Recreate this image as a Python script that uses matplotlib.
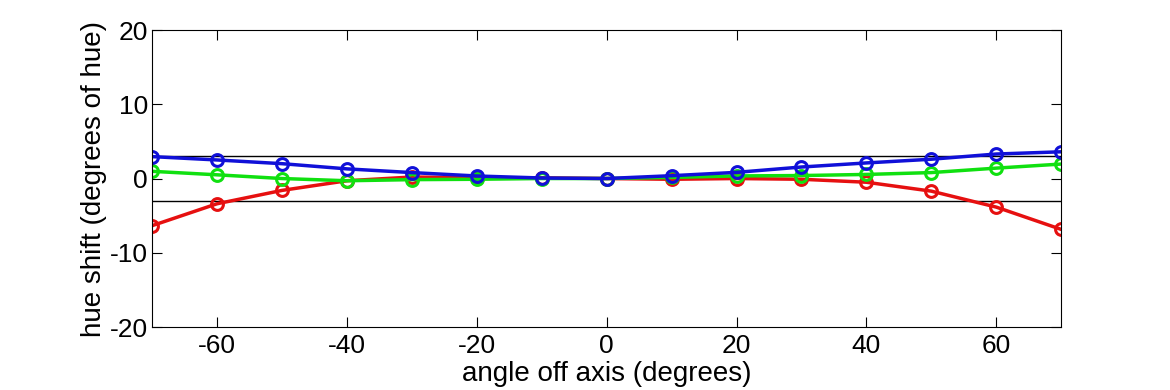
import matplotlib
matplotlib.use("Agg")
import matplotlib.pyplot as plt
import numpy as np

# viewing angle (degrees)
angles = [-70, -60, -50, -40, -30, -20, -10, 0, 10, 20, 30, 40, 50, 60, 70]

# hue shift per channel (degrees of hue)
red_shift = [-6.35, -3.4, -1.6, -0.3, 0.2, 0.1, 0.1, 0.0, -0.1, 0.0, -0.1, -0.5, -1.7, -3.85, -6.85]
green_shift = [0.97, 0.5, 0.0, -0.3, -0.15, -0.1, 0.0, 0.0, 0.15, 0.35, 0.4, 0.55, 0.8, 1.4, 1.95]
blue_shift = [2.95, 2.5, 2.0, 1.3, 0.8, 0.34, 0.07, 0.0, 0.38, 0.83, 1.55, 2.1, 2.6, 3.3, 3.6]

limit = 3
x_ticks = [-60, -40, -20, 0, 20, 40, 60]
y_ticks = [-20, -10, 0, 10, 20]

plt.rcParams['font.family'] = ['Liberation Sans', 'DejaVu Sans']
plt.rcParams['axes.unicode_minus'] = False

fig = plt.figure(figsize=(11.7, 3.9), dpi=100)
ax = fig.add_axes([0.13, 0.1615, 0.777, 0.7615])

ax.axhline(limit, color="black", linewidth=1)
ax.axhline(-limit, color="black", linewidth=1)

series = [(red_shift, "#e61010"), (green_shift, "#10e010"), (blue_shift, "#1010d8")]
for values, colour in series:
    ax.plot(angles, values, color=colour, linewidth=2.5, marker="o",
            markersize=8.5, markerfacecolor="none", markeredgewidth=2.2)

ax.set_xlim(-70, 70)
ax.set_ylim(-20, 20)
ax.set_xticks(x_ticks)
ax.set_yticks(y_ticks)
ax.tick_params(direction="in", length=7, width=0.8, top=True, right=True,
               labelsize=19)
ax.tick_params(axis="y", pad=3)
ax.tick_params(axis="x", pad=5)
for spine in ax.spines.values():
    spine.set_linewidth(0.8)

ax.set_xlabel("angle off axis (degrees)", fontsize=20, labelpad=2)
ax.set_ylabel("hue shift (degrees of hue)", fontsize=20)
ax.yaxis.set_label_coords(-0.05, 0.5)

fig.savefig("out.png", dpi=100)
